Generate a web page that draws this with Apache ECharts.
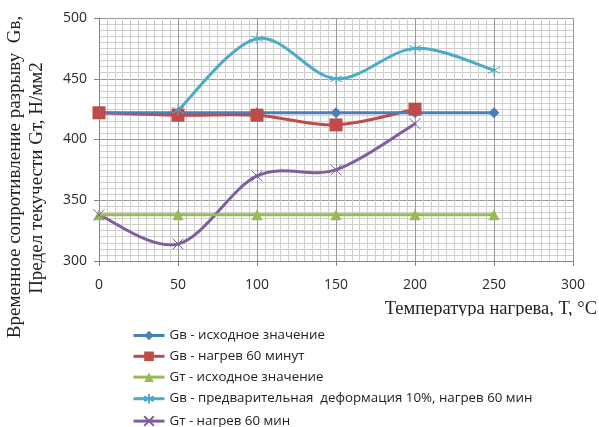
<!DOCTYPE html>
<html>
<head>
<meta charset="utf-8">
<script src="https://cdn.jsdelivr.net/npm/echarts@6/dist/echarts.min.js"></script>
<style>
  html, body { margin: 0; padding: 0; background: #fff; }
  #chart { width: 599px; height: 427px; }
</style>
</head>
<body>
<div id="chart"></div>
<script>
// Temperatures of heating, °C
var temps = [0, 50, 100, 150, 200, 250];
// Strength values, N/mm2 (null = not measured)
var gbInitial   = [422, 422, 422, 422, 422, 422];
var gbHeat60    = [422, 420, 420, 412, 425, null];
var gtInitial   = [338, 338, 338, 338, 338, 338];
var gbDeformed  = [null, 424, 483, 450, 475, 457];
var gtHeat60    = [338, 314, 370, 375, 413, null];

var xTicks = [0, 50, 100, 150, 200, 250, 300];
var yTicks = [300, 350, 400, 450, 500];

var seriesNames = [
  'Gв - исходное значение',
  'Gв - нагрев 60 минут',
  'Gт - исходное значение',
  'Gв - предварительная  деформация 10%, нагрев 60 мин',
  'Gт - нагрев 60 мин'
];
var seriesColors = ['#4a7ebb', '#be4b48', '#98b954', '#4bacc6', '#7d5fa0'];
var yTitle1 = 'Временное сопротивление разрыву  Gв,';
var yTitle2 = 'Предел текучести Gт, Н/мм2';
var xTitle = 'Температура нагрева, Т, °С';

function pairs(vals) {
  var out = [];
  for (var i = 0; i < temps.length; i++) {
    if (vals[i] !== null) out.push([temps[i], vals[i]]);
  }
  return out;
}

var starPath = 'path://M5,0L5,10M0.7,2.5L9.3,7.5M0.7,7.5L9.3,2.5';
var crossPath = 'path://M0,0L10,10M0,10L10,0';

// Markers (and legend entries); the connecting line is optional
function markerSeries(idx, vals, symbol, size, hollow, drawLine) {
  var color = seriesColors[idx];
  return {
    name: seriesNames[idx],
    type: 'line',
    data: pairs(vals),
    symbol: symbol,
    symbolSize: size,
    lineStyle: { color: color, width: 3, opacity: drawLine ? 1 : 0 },
    itemStyle: hollow
      ? { color: 'none', borderColor: color, borderWidth: 1 }
      : { color: color },
    emphasis: { disabled: true },
    z: 3,
    animation: false
  };
}

// Smoothed curve through the points (Catmull-Rom converted to cubic Bezier)
function curveSeries(idx, vals) {
  var color = seriesColors[idx];
  return {
    name: 'curve ' + idx,
    type: 'custom',
    coordinateSystem: 'cartesian2d',
    data: [[temps[0], 300]],
    silent: true,
    z: 2,
    animation: false,
    renderItem: function (params, api) {
      var pts = pairs(vals).map(function (p) { return api.coord(p); });
      var children = [];
      for (var i = 0; i < pts.length - 1; i++) {
        var p0 = pts[i - 1] || pts[i];
        var p1 = pts[i];
        var p2 = pts[i + 1];
        var p3 = pts[i + 2] || pts[i + 1];
        children.push({
          type: 'bezierCurve',
          shape: {
            x1: p1[0], y1: p1[1], x2: p2[0], y2: p2[1],
            cpx1: p1[0] + (p2[0] - p0[0]) / 6,
            cpy1: p1[1] + (p2[1] - p0[1]) / 6,
            cpx2: p2[0] - (p3[0] - p1[0]) / 6,
            cpy2: p2[1] - (p3[1] - p1[1]) / 6
          },
          style: { stroke: color, lineWidth: 3, fill: null, lineCap: 'round' }
        });
      }
      return { type: 'group', children: children };
    }
  };
}

var chart = echarts.init(document.getElementById('chart'), null, { renderer: 'canvas' });

var tickFont = { fontFamily: 'Open Sans', fontSize: 14, color: '#2a2a2a' };

chart.setOption({
  backgroundColor: '#fff',
  animation: false,
  grid: { left: 99, right: 26, top: 18, bottom: 166, show: false },
  xAxis: {
    type: 'value',
    min: 0, max: 300, interval: 50,
    axisLine: { show: true, lineStyle: { color: '#868686', width: 1 } },
    axisTick: { show: true, length: 5, lineStyle: { color: '#868686' } },
    axisLabel: Object.assign({ margin: 17 }, tickFont),
    splitLine: { show: true, lineStyle: { color: '#9a9a9a', width: 1 } },
    minorTick: { show: false, splitNumber: 10 },
    minorSplitLine: { show: true, lineStyle: { color: '#cfcfcf', width: 1 } }
  },
  yAxis: {
    type: 'value',
    min: 300, max: 500, interval: 50,
    axisLine: { show: true, lineStyle: { color: '#868686', width: 1 } },
    axisTick: { show: true, length: 5, lineStyle: { color: '#868686' } },
    axisLabel: Object.assign({ margin: 12 }, tickFont),
    splitLine: { show: true, lineStyle: { color: '#9a9a9a', width: 1 } },
    minorTick: { show: false, splitNumber: 10 },
    minorSplitLine: { show: true, lineStyle: { color: '#cfcfcf', width: 1 } }
  },
  legend: {
    orient: 'vertical',
    left: 132, top: 329, height: 140, padding: 0,
    itemWidth: 31, itemHeight: 12, itemGap: 7.8,
    textStyle: { fontFamily: 'Open Sans', fontSize: 13.3, color: '#222', lineHeight: 12 },
    data: seriesNames.map(function (n, i) {
      return { name: n, lineStyle: { color: seriesColors[i], width: 3, opacity: 1 } };
    })
  },
  graphic: [
    {
      type: 'text', z: 10,
      style: { x: 597, y: 300, text: xTitle, font: '18.5px "Liberation Serif"', fill: '#222',
               align: 'right', verticalAlign: 'top' }
    },
    {
      type: 'rect', shape: { x: 370, y: 316, width: 229, height: 7 }, z: 11,
      style: { fill: '#fff' }
    },
    {
      type: 'text', x: 15, y: 177, rotation: Math.PI / 2,
      style: { text: yTitle1, font: '19px "Liberation Serif"', fill: '#222',
               align: 'center', verticalAlign: 'middle' }
    },
    {
      type: 'text', x: 37, y: 178, rotation: Math.PI / 2,
      style: { text: yTitle2, font: '19px "Liberation Serif"', fill: '#222',
               align: 'center', verticalAlign: 'middle' }
    }
  ],
  series: [
    markerSeries(0, gbInitial, 'diamond', 11, false, true),
    curveSeries(1, gbHeat60),
    markerSeries(1, gbHeat60, 'rect', 13, false, false),
    markerSeries(2, gtInitial, 'triangle', 11, false, true),
    curveSeries(3, gbDeformed),
    markerSeries(3, gbDeformed, starPath, 12, true, false),
    curveSeries(4, gtHeat60),
    markerSeries(4, gtHeat60, crossPath, 11, true, false)
  ]
});
</script>
</body>
</html>
